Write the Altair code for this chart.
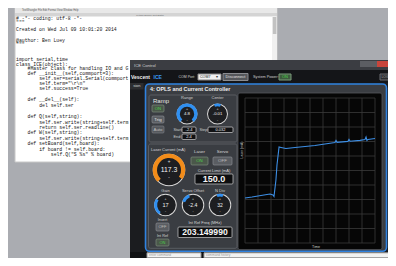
import altair as alt
import pandas as pd

# ---------------- data: the scope trace (grid units) ----------------
time_units = [0, 5.4, 10, 14.6, 19.2, 21.5, 22.3, 23.8, 24.6, 26.2, 27.7, 31.5, 38.5,
              46.2, 53.8, 61.5, 69.2, 70.0, 70.8, 79.2, 80.0, 80.8, 88.5, 92.3, 93.1,
              93.8, 94.6, 100]
laser_ma = [31.0, 31.7, 32.4, 33.1, 33.8, 33.1, 32.1, 43.4, 53.8, 66.2, 65.9, 65.2, 65.9,
            66.6, 67.2, 68.3, 69.3, 70.7, 69.4, 70.1, 71.4, 70.2, 70.8, 71.4, 73.1,
            70.7, 71.4, 72.1]
grid_ticks = list(range(0, 101, 10))

# code shown in the editor
code_lines = [
    (0, 19, "# -*- coding: utf-8 -*-"),
    (0, 22.5, '"""'),
    (0, 30, "Created on Wed Jul 09 10:01:20 2014"),
    (0, 41, "@author: Ben Luey"),
    (0, 44.5, '"""'),
    (0, 60, "import serial,time"),
    (0, 64.5, "class ICE(object):"),
    (1, 69, "#Master class for handling IO and GPIB"),
    (1, 73.5, "def __init__(self,commport=3):"),
    (2, 78.5, "self.ser=serial.Serial(commport-1,baudrate=115200)"),
    (2, 83.5, 'self.term="\\r\\n"'),
    (2, 88.5, "self.success=True"),
    (1, 100, "def __del__(self):"),
    (2, 105.5, "del self.ser"),
    (1, 117, "def Q(self,string):"),
    (2, 122.5, "self.ser.write(string+self.term)"),
    (2, 127.5, "return self.ser.readline()"),
    (1, 133, "def W(self,string):"),
    (2, 138.5, "self.ser.write(string+self.term)"),
    (1, 144, "def setBoard(self,board):"),
    (2, 149.5, "if board != self.board:"),
    (3, 155, 'self.Q("S %s" % board)'),
]

OFF = 8  # page margin
W, H = 380, 250

# ---------------- layout (screen pixels) ----------------
rects = [
    # editor window
    (15, 8, 277, 162, "#ffffff", "#c8c8c8"),
    (15, 8, 277, 13, "#e8e8e8", "transparent"),
    (15, 13, 277, 16.5, "#d4d4d4", "transparent"),
    (272, 16.5, 277, 162, "#f0f0f0", "transparent"),
    (272.8, 17, 276.4, 34, "#c2c2c2", "transparent"),
    # dark window
    (130, 60, 390, 266, "#1b1c1f", "transparent"),
    (130, 60, 390, 70, "#3b3d42", "transparent"),
    (360, 61, 368, 67, "#5c5e63", "transparent"),
    (368, 61, 377, 67, "#5c5e63", "transparent"),
    (377, 61, 390, 67, "#c8453c", "transparent"),
    (130, 70, 390, 83, "#141518", "transparent"),
    (198, 74, 221, 80, "#f0f0f0", "#888888"),
    (223, 73.5, 248, 80.5, "#55575b", "#8a8c90"),
    (279, 74, 291, 80, "#3e5a3e", "#7a9a7a"),
    (380, 74, 390, 80, "#2a2b2e", "#6a6c70"),
    (130, 83, 143.5, 89.5, "#2c2d30", "transparent"),
    (130, 252, 390, 266, "#101113", "transparent"),
    (147, 252.8, 201, 257.8, "#f2f2f2", "#9a9a9a"),
    (204, 252.8, 389, 257.8, "#f2f2f2", "#9a9a9a"),
]
slot_tops = [90.5, 99.2, 107.9, 116.6, 125.3, 134.0, 142.7, 151.4]
for i, t in enumerate(slot_tops):
    rects.append((131, t, 143.5, t + 7.6, "#2f8ff0" if i == 3 else "#55575c", "transparent"))

panels = [
    (145.5, 84, 386.5, 251.3, "#3a3d42", "#2f82e0"),
]
subpanels = [
    (149, 95, 237, 142, "#3a3d42", "#62656b"),
    (148.5, 144, 237, 248.3, "#3a3d42", "#62656b"),
    (238, 93, 382, 249.6, "#060606", "#55585e"),
]
buttons = [
    (152, 105, 164, 112, "#4a584a", "#7b8a7b"),
    (152, 116, 164, 123, "#5a5d62", "#888b90"),
    (152, 126, 164, 133, "#55585d", "#7a7d82"),
    (182, 127, 196, 132.5, "#111214", "#d0d0d0"),
    (182, 134, 196, 139.5, "#111214", "#d0d0d0"),
    (208, 127, 233, 132.5, "#111214", "#d0d0d0"),
    (191, 157, 208, 165, "#4a584a", "#7b8a7b"),
    (213, 157, 232, 165, "#5a5d62", "#888b90"),
    (195, 174, 233, 184, "#0d0e10", "#cfcfcf"),
    (156, 223, 169, 231, "#5a5d62", "#888b90"),
    (156, 239, 169, 246, "#4a584a", "#7b8a7b"),
    (178, 227, 232, 237.5, "#0d0e10", "#cfcfcf"),
]

TAU = 6.2832
# knobs: cx, cy, r_in, r_out, theta1, theta2, colour
arcs = []
knobs = [
    (187, 114, 10.5, "#2f8ff0", 3.85, 8.72, 7.2),
    (217.5, 114, 10.5, "#2f8ff0", 5.95, 6.62, 7.8),
    (169, 170, 16.3, "#f28c1a", 3.9, 8.45, 12.0),
    (165.5, 205, 11.3, "#2f8ff0", 3.75, 5.3, 8.4),
    (193, 205, 11.3, "#2f8ff0", 5.05, 5.9, 8.4),
    (220, 205, 11.3, "#2f8ff0", 5.98, 6.58, 8.4),
]
for cx, cy, r, col, t1, t2, rin in knobs:
    arcs.append((cx, cy, 0, r, 0, TAU, "#1d1e21"))
    arcs.append((cx, cy, r - 1.0, r, 0, TAU, "#d8d8d8"))
    arcs.append((cx, cy, rin, r, t1, t2, col))

# texts: x, y, text, size, colour
ui_left = [
    (22, 10.5, "TextWrangler   File   Edit   Format   View   Window   Help", 2.6, "#555555"),
    (134, 65.5, "ICE Control", 4.2, "#d0d0d0"),
    (178.5, 77, "COM Port:", 3.5, "#cfcfcf"),
    (200, 77, "COM7", 3.6, "#222222"),
    (253, 77, "System Power:", 3.8, "#cfcfcf"),
    (153, 101, "Ramp", 6.0, "#e8e8e8"),
    (173.5, 129.8, "Start:", 3.8, "#d0d0d0"),
    (173.5, 136.8, "End:", 3.8, "#d0d0d0"),
    (199.5, 129.8, "Step:", 3.8, "#d0d0d0"),
    (151, 150, "Laser Current (mA)", 4.0, "#d8d8d8"),
    (149, 255.3, "enter command", 3.2, "#999999"),
    (206, 255.3, "command history", 3.2, "#999999"),
]
ui_center = [
    (150, 15, "Python Source Text Editor", 2.4, "#666666"),
    (217, 77, "▾", 4.0, "#333333"),
    (235.5, 77, "Disconnect", 4.0, "#e0e0e0"),
    (285, 77, "ON", 4.0, "#4cd04c"),
    (385, 77, "LOG", 3.4, "#aaaaaa"),
    (136.8, 86.3, "sion", 4.0, "#d0d0d0"),
    (158, 108.6, "ON", 4.2, "#4cd04c"),
    (158, 119.6, "Trig", 4.4, "#e8e8e8"),
    (158, 129.6, "Auto", 4.4, "#c0c0c0"),
    (187, 97.5, "Range", 4.0, "#d0d0d0"),
    (217.5, 97.5, "Center", 4.0, "#d0d0d0"),
    (187, 108.6, "+", 3.6, "#e0e0e0"), (187, 114, "4.8", 4.4, "#f0f0f0"), (187, 119.5, "-", 3.6, "#e0e0e0"),
    (217.5, 108.6, "+", 3.6, "#e0e0e0"), (217.5, 114, "-0.01", 4.2, "#f0f0f0"), (217.5, 119.5, "-", 3.6, "#e0e0e0"),
    (189, 129.8, "-2.4", 4.0, "#f0f0f0"),
    (189, 136.8, "2.4", 4.0, "#f0f0f0"),
    (220.5, 129.8, "0.032", 4.0, "#f0f0f0"),
    (169, 162.3, "+", 4.5, "#e0e0e0"), (169, 170, "117.3", 6.8, "#f4f4f4"), (169, 177.5, "-", 4.5, "#e0e0e0"),
    (199.5, 152.3, "Laser", 4.4, "#d8d8d8"),
    (222.5, 152.3, "Servo", 4.4, "#d8d8d8"),
    (199.5, 161.2, "ON", 4.4, "#4cd04c"),
    (222.5, 161.2, "OFF", 4.4, "#bbbbbb"),
    (214, 170.5, "Current Limit (mA)", 4.0, "#d8d8d8"),
    (165.5, 190.5, "Gain", 4.0, "#d0d0d0"),
    (193, 190.5, "Servo Offset", 4.0, "#d0d0d0"),
    (220, 190.5, "N Div", 4.0, "#d0d0d0"),
    (165.5, 199.2, "+", 3.4, "#e0e0e0"), (165.5, 205, "17", 5.6, "#f0f0f0"), (165.5, 210.8, "-", 3.4, "#e0e0e0"),
    (193, 199.2, "+", 3.4, "#e0e0e0"), (193, 205, "-2.4", 5.2, "#f0f0f0"), (193, 210.8, "-", 3.4, "#e0e0e0"),
    (220, 199.2, "+", 3.4, "#e0e0e0"), (220, 205, "32", 5.0, "#f0f0f0"), (220, 210.8, "-", 3.4, "#e0e0e0"),
    (162.5, 220.3, "Invert", 3.8, "#d0d0d0"),
    (162.5, 227.2, "OFF", 4.0, "#bbbbbb"),
    (162.5, 235.5, "Int Ref", 3.8, "#d0d0d0"),
    (162.5, 242.7, "ON", 4.0, "#4cd04c"),
    (205, 223.3, "Int Ref Freq (MHz)", 4.0, "#d8d8d8"),
    (316, 246.6, "Time", 3.6, "#cfcfcf"),
]
ui_bold_left = [
    (131, 76.8, "Vescent", 5.0, "#f0f0f0"),
    (153.5, 76.8, "ICE", 5.0, "#3a9af5"),
    (150, 89.2, "4: OPLS and Current Controller", 5.4, "#f0f0f0"),
]
ui_bold_center = [
    (214, 179.2, "150.0", 9.0, "#f6f6f6"),
    (205, 232.4, "203.149990", 8.6, "#f6f6f6"),
]


def rect_df(items):
    return pd.DataFrame([
        {"x1": a - OFF, "y1": b - OFF, "x2": c - OFF, "y2": d - OFF, "fill": f, "stroke": s, "order": i}
        for i, (a, b, c, d, f, s) in enumerate(items)
    ])


def text_df(items):
    return pd.DataFrame([
        {"x": a - OFF, "y": b - OFF, "label": t, "fs": s, "col": c}
        for (a, b, t, s, c) in items
    ])


def rect_layer(items, radius=0, sw=1.0):
    return alt.Chart(rect_df(items)).mark_rect(cornerRadius=radius, strokeWidth=sw).encode(
        x=alt.X("x1:Q", scale=None, axis=None),
        x2="x2:Q",
        y=alt.Y("y1:Q", scale=None, axis=None),
        y2="y2:Q",
        color=alt.Color("fill:N", scale=None, legend=None),
        stroke=alt.Stroke("stroke:N", scale=None, legend=None),
        order="order:Q",
    )


def text_layer(items, align="left", weight="normal", font="Liberation Sans", angle=0):
    kw = dict(align=align, baseline="middle", fontWeight=weight, font=font)
    if angle:
        kw["angle"] = angle
    return alt.Chart(text_df(items)).mark_text(**kw).encode(
        x=alt.X("x:Q", scale=None, axis=None),
        y=alt.Y("y:Q", scale=None, axis=None),
        text="label:N",
        size=alt.Size("fs:Q", scale=None, legend=None),
        color=alt.Color("col:N", scale=None, legend=None),
    )


arc_df = pd.DataFrame([
    {"cx": a - OFF, "cy": b - OFF, "r1": r1, "r2": r2, "t1": t1, "t2": t2, "col": c, "order": i}
    for i, (a, b, r1, r2, t1, t2, c) in enumerate(arcs)
])
arc_layer = alt.Chart(arc_df).mark_arc().encode(
    x=alt.X("cx:Q", scale=None, axis=None),
    y=alt.Y("cy:Q", scale=None, axis=None),
    theta=alt.Theta("t1:Q", scale=None, stack=None),
    theta2="t2:Q",
    radius=alt.Radius("r2:Q", scale=None),
    radius2="r1:Q",
    color=alt.Color("col:N", scale=None, legend=None),
    order="order:Q",
)

# editor text: lines are hidden where the ICE window covers them (x >= 130)
indent_px = 11.6
char_px = 2.88
code_rows = []
for (lvl, y, t) in code_lines:
    x0 = 16 + lvl * indent_px
    if y > 60:
        nmax = int((130 - x0) / char_px)
        t = t[:nmax]
    code_rows.append({"x": x0 - OFF, "y": y - OFF, "label": t})
code_df = pd.DataFrame(code_rows)
code_layer = alt.Chart(code_df).mark_text(
    align="left", baseline="middle", font="Liberation Mono", fontSize=4.8, color="#161616"
).encode(
    x=alt.X("x:Q", scale=None, axis=None),
    y=alt.Y("y:Q", scale=None, axis=None),
    text="label:N",
)

# ---------------- the scope plot, through real scales ----------------
xs = alt.Scale(domain=[0, 100], range=[245 - OFF, 375 - OFF], nice=False, zero=False)
ys = alt.Scale(domain=[0, 100], range=[243 - OFF, 98 - OFF], nice=False, zero=False)

vgrid = pd.DataFrame({"t": grid_ticks, "lo": [0] * len(grid_ticks), "hi": [100] * len(grid_ticks)})
hgrid = pd.DataFrame({"v": grid_ticks, "lo": [0] * len(grid_ticks), "hi": [100] * len(grid_ticks)})

vgrid_layer = alt.Chart(vgrid).mark_rule(color="#3a3a3a", strokeWidth=0.8).encode(
    x=alt.X("t:Q", scale=xs, axis=None),
    y=alt.Y("lo:Q", scale=ys, axis=None),
    y2="hi:Q",
)
hgrid_layer = alt.Chart(hgrid).mark_rule(color="#3a3a3a", strokeWidth=0.8).encode(
    y=alt.Y("v:Q", scale=ys, axis=None),
    x=alt.X("lo:Q", scale=xs, axis=None),
    x2="hi:Q",
)
trace = pd.DataFrame({"time": time_units, "laser": laser_ma})
line_layer = alt.Chart(trace).mark_line(color="#3d8fe6", strokeWidth=1.1).encode(
    x=alt.X("time:Q", scale=xs, axis=None),
    y=alt.Y("laser:Q", scale=ys, axis=None),
)

ytitle = text_layer([(241.5, 150, "Laser (mA)", 3.4, "#cfcfcf")], align="center", angle=270)

chart = alt.layer(
    rect_layer(rects),
    code_layer,
    rect_layer(rects[5:19]),
    rect_layer(panels, radius=4, sw=1.6),
    rect_layer(subpanels, radius=2, sw=0.8),
    rect_layer(buttons, radius=1, sw=0.7),
    arc_layer,
    vgrid_layer,
    hgrid_layer,
    line_layer,
    text_layer(ui_left),
    text_layer(ui_center, align="center"),
    text_layer(ui_bold_left, weight="bold"),
    text_layer(ui_bold_center, align="center", weight="bold"),
    ytitle,
).resolve_scale(
    x="independent", y="independent", color="independent", size="independent", stroke="independent"
).properties(
    width=W, height=H, padding=0, autosize=alt.AutoSizeParams(type="none"),
    background="#aaacb1",
).configure_view(stroke=None)

chart.save("out.html", embed_options={"renderer": "svg", "actions": False})
